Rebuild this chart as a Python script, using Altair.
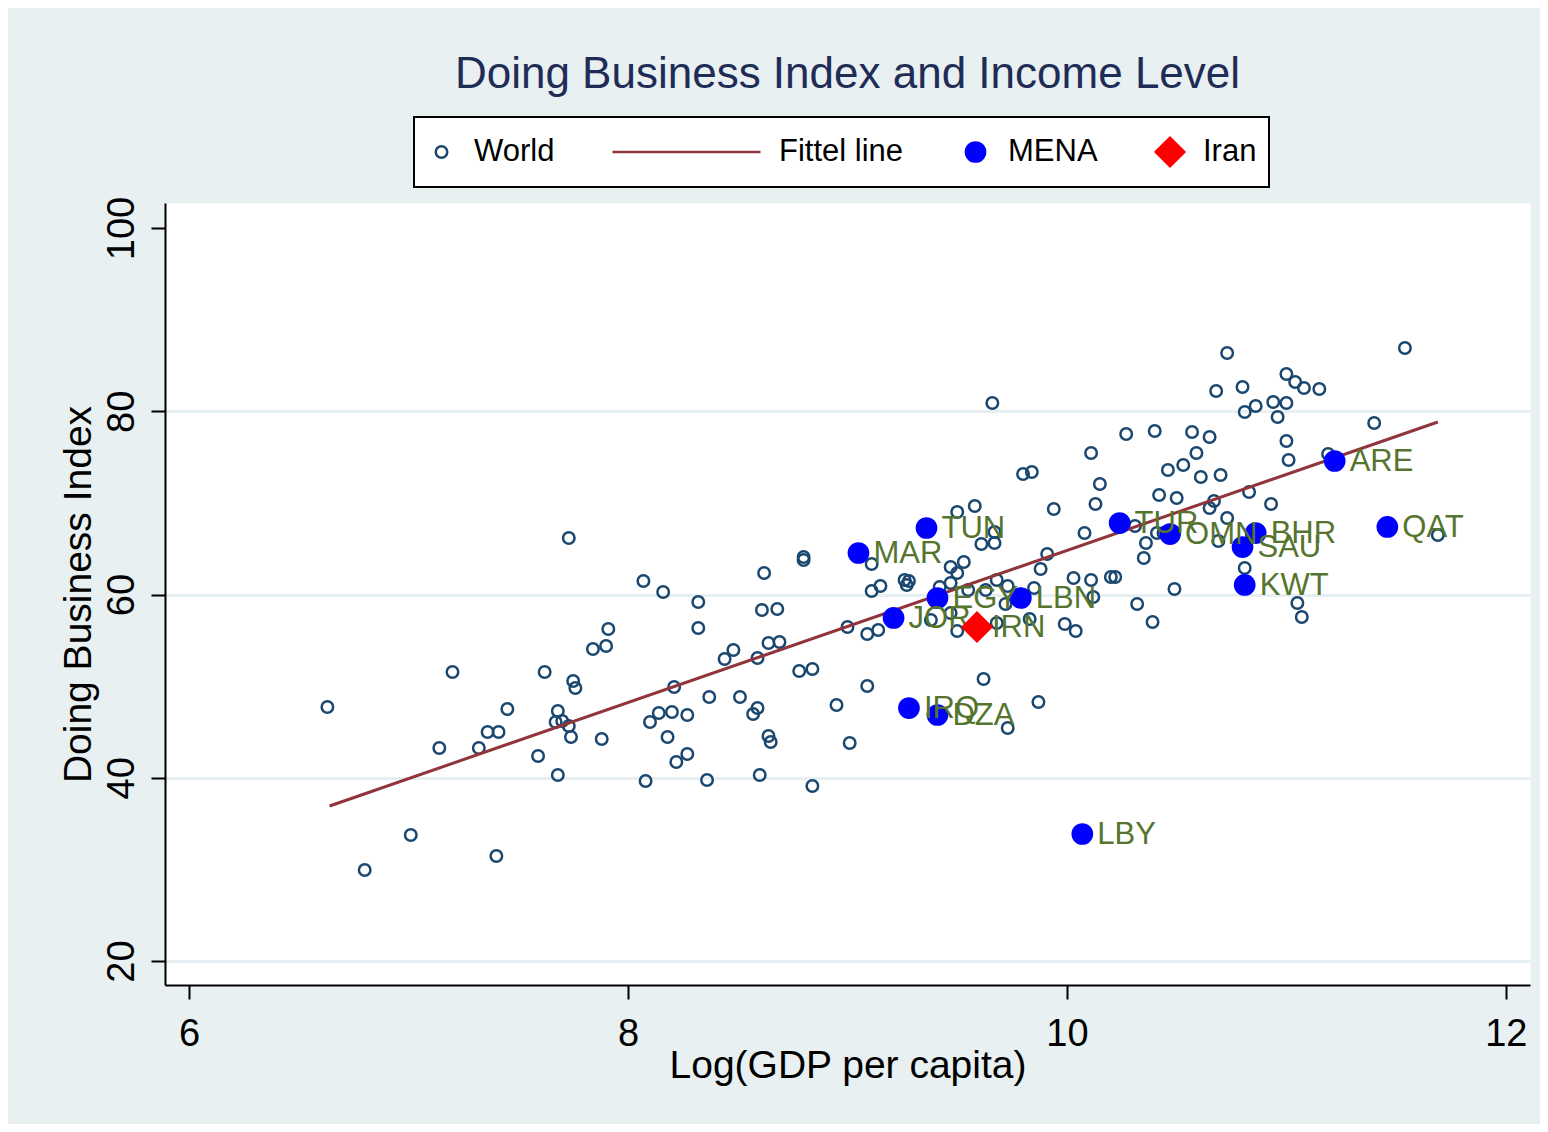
import altair as alt
import pandas as pd

# ---------------- data ----------------
world_x = [6.63, 6.80, 7.01, 7.14, 7.20, 7.32, 7.36, 7.41, 7.40, 7.45,
           7.59, 7.62, 7.68, 7.67, 7.70, 7.73, 7.73, 7.74, 7.75, 7.76,
           7.68, 7.84, 7.90, 7.91, 7.88, 8.07, 8.08, 8.10, 8.14, 8.16,
           8.32, 8.32, 8.62, 8.80, 8.80, 9.11, 9.26, 9.28, 9.27, 9.11,
           9.15, 8.61, 8.68, 9.00, 9.09, 9.14, 8.48, 8.44, 8.64, 8.69,
           8.59, 8.21, 8.78, 8.84, 9.09, 8.20, 8.27, 8.37, 8.51, 8.59,
           8.57, 8.95, 8.18, 8.64, 8.65, 8.27, 8.22, 9.01, 8.36, 8.60,
           8.84, 9.50, 9.58, 9.94, 10.13, 9.67, 9.61, 9.67, 10.08, 9.47,
           9.53, 9.50, 9.91, 9.88, 9.42, 9.47, 9.68, 9.73, 9.85, 10.03,
           10.11, 9.55, 9.63, 9.72, 9.38, 9.50, 9.47, 9.68, 9.83, 9.99,
           10.04, 9.62, 9.87, 9.73, 10.12, 9.66, 10.27, 10.40, 10.57, 10.11,
           10.59, 9.80, 9.84, 10.46, 10.53, 10.15, 10.61, 10.42, 10.50, 10.31,
           10.36, 10.35, 10.41, 10.44, 10.20, 10.22, 10.73, 11.54, 11.00, 11.04,
           11.08, 11.15, 10.68, 10.80, 10.94, 11.00, 10.81, 10.86, 10.96, 11.40,
           10.65, 11.00, 11.01, 11.19, 10.70, 10.83, 10.67, 10.65, 10.93, 10.73,
           10.69, 11.69, 10.81, 10.49, 10.32, 10.39, 11.05, 11.07]
world_y = [47.72, 29.93, 33.75, 43.25, 51.54, 43.25, 44.99, 44.99, 31.46, 47.50,
           42.37, 51.54, 47.29, 46.08, 46.19, 66.17, 45.65, 44.45, 50.56, 49.80,
           40.30, 54.05, 54.38, 56.23, 44.23, 61.47, 39.65, 46.08, 47.07, 60.27,
           59.18, 56.34, 62.35, 64.09, 63.77, 63.33, 61.58, 61.47, 61.04, 60.38,
           60.93, 58.31, 58.42, 56.45, 55.69, 56.13, 53.94, 52.96, 54.71, 54.82,
           53.07, 49.90, 51.65, 51.87, 50.01, 47.18, 46.85, 48.81, 48.81, 47.61,
           46.96, 47.94, 44.45, 44.56, 43.90, 42.59, 41.72, 43.79, 39.75, 40.30,
           39.10, 69.00, 69.66, 69.33, 69.88, 66.82, 65.51, 65.62, 66.71, 63.00,
           63.55, 62.35, 64.42, 62.78, 60.82, 61.26, 61.58, 60.93, 60.71, 61.80,
           61.58, 60.49, 60.49, 58.96, 57.22, 56.02, 57.98, 56.89, 57.33, 56.78,
           56.02, 50.78, 48.27, 45.43, 59.73, 80.90, 77.52, 77.84, 77.74, 75.44,
           75.44, 73.15, 73.37, 73.59, 74.13, 72.06, 72.82, 70.86, 70.53, 67.48,
           65.62, 63.98, 66.71, 66.71, 61.91, 61.91, 86.36, 86.90, 84.07, 83.19,
           82.54, 82.43, 82.21, 82.65, 81.01, 80.90, 79.92, 80.57, 79.37, 78.72,
           77.19, 76.75, 74.68, 75.33, 73.04, 71.19, 70.20, 69.44, 69.88, 68.35,
           65.84, 66.49, 62.89, 60.60, 58.96, 57.00, 59.07, 57.54]

mena_codes = ["TUN", "MAR", "EGY", "JOR", "LBN", "IRQ", "DZA", "TUR",
              "OMN", "BHR", "SAU", "KWT", "ARE", "QAT", "LBY"]
mena_x = [9.36, 9.05, 9.41, 9.21, 9.79, 9.28, 9.41, 10.24,
          10.47, 10.86, 10.80, 10.81, 11.22, 11.46, 10.07]
mena_y = [67.26, 64.53, 59.62, 57.44, 59.62, 47.61, 46.85, 67.80,
          66.60, 66.71, 65.18, 61.04, 74.57, 67.37, 33.86]

iran_codes = ["IRN"]
iran_x = [9.59]
iran_y = [56.45]

fit_x = [6.64, 11.69]
fit_y = [36.92, 78.83]

series_names = ["World", "Fittel line", "MENA", "Iran"]
x_ticks = [6, 8, 10, 12]
y_ticks = [20, 40, 60, 80, 100]

# ---------------- tables ----------------
world = pd.DataFrame({"lgdp": world_x, "dbi": world_y, "series": "World"})
mena = pd.DataFrame({"lgdp": mena_x, "dbi": mena_y, "code": mena_codes, "series": "MENA"})
iran = pd.DataFrame({"lgdp": iran_x, "dbi": iran_y, "code": iran_codes, "series": "Iran"})
fit = pd.DataFrame({"lgdp": fit_x, "dbi": fit_y, "series": "Fittel line"})
labels = pd.concat([mena, iran], ignore_index=True)

FONT = "Liberation Sans"
NAVY = "#1A476F"
MAROON = "#90353B"
OLIVE = "#55752F"
BG = "#E8F0F2"
GRID = "#E6EFF1"

x_enc = alt.X(
    "lgdp:Q",
    scale=alt.Scale(domain=[5.89, 12.11], nice=False, zero=False),
    axis=alt.Axis(
        values=x_ticks, title="Log(GDP per capita)", grid=False,
        labelBaseline="alphabetic", labelPadding=46, tickSize=14,
        titleBaseline="alphabetic", titleAlign="center", titleX=682.5, titleY=92,
    ),
)
y_enc = alt.Y(
    "dbi:Q",
    scale=alt.Scale(domain=[17.38, 102.73], nice=False, zero=False),
    axis=alt.Axis(
        values=y_ticks, title="Doing Business Index", grid=True,
        gridColor={"condition": {"test": "datum.value == 100", "value": "#FFFFFF"}, "value": GRID},
        gridWidth=3,
        labelAngle=270, labelAlign="center", labelBaseline="alphabetic",
        labelPadding=18, tickSize=14,
        titleAngle=270, titleAlign="center", titleBaseline="alphabetic",
        titleX=-75, titleY=391,
    ),
)

legend = alt.Legend(
    title=None, orient="none", legendX=249, legendY=-86, direction="horizontal",
    labelFont=FONT, labelFontSize=31, labelColor="black", labelOffset=17,
    columnPadding=56, padding=12, clipHeight=46, symbolStrokeWidth=2.5,
    strokeColor="black", fillColor="white",
)

shape_enc = alt.Shape("series:N", scale=alt.Scale(domain=series_names, range=["circle", "stroke", "circle", "diamond"]), legend=legend)
fill_enc = alt.Fill("series:N", scale=alt.Scale(domain=series_names, range=["transparent", "transparent", "#0000FF", "#FF0000"]), legend=legend)
stroke_enc = alt.Stroke("series:N", scale=alt.Scale(domain=series_names, range=[NAVY, MAROON, "#0000FF", "#FF0000"]), legend=legend)
size_enc = alt.Size("series:N", scale=alt.Scale(type="ordinal", domain=series_names, range=[132, 21904, 369, 820]), legend=legend)

point_enc = dict(x=x_enc, y=y_enc, shape=shape_enc, fill=fill_enc, stroke=stroke_enc, size=size_enc)

world_layer = alt.Chart(world).mark_point(filled=True, opacity=1, strokeWidth=2.5).encode(**point_enc)
fit_layer = alt.Chart(fit).mark_line(strokeWidth=3).encode(x=x_enc, y=y_enc, stroke=stroke_enc)
mena_layer = alt.Chart(mena).mark_point(filled=True, opacity=1, strokeWidth=2.5).encode(**point_enc)
iran_layer = alt.Chart(iran).mark_point(filled=True, opacity=1, strokeWidth=2.5).encode(**point_enc)
text_layer = alt.Chart(labels).mark_text(
    align="left", baseline="middle", dx=15, dy=1, font=FONT, fontSize=31, color=OLIVE
).encode(x=x_enc, y=y_enc, text="code:N")

chart = (
    alt.layer(world_layer, fit_layer, mena_layer, text_layer, iran_layer)
    .properties(
        width=1365, height=782,
        autosize=alt.AutoSizeParams(type="none"),
        padding={"left": 157, "top": 195, "right": 10, "bottom": 139},
        background=BG,
        title=alt.TitleParams(
            "Doing Business Index and Income Level", font=FONT, fontSize=44,
            fontWeight="normal", color="#1F2C56", anchor="middle", frame="group",
            baseline="alphabetic", offset=28, dy=44,
        ),
    )
    .configure_view(fill="white", stroke="transparent")
    .configure_axis(
        labelFont=FONT, titleFont=FONT, labelFontSize=38, titleFontSize=39,
        labelColor="black", titleColor="black", titleFontWeight="normal",
        domainColor="black", domainWidth=2, tickColor="black", tickWidth=2,
    )
    .configure_legend(strokeWidth=2)
)

chart.save("out.html", embed_options={"renderer": "svg", "actions": False})
